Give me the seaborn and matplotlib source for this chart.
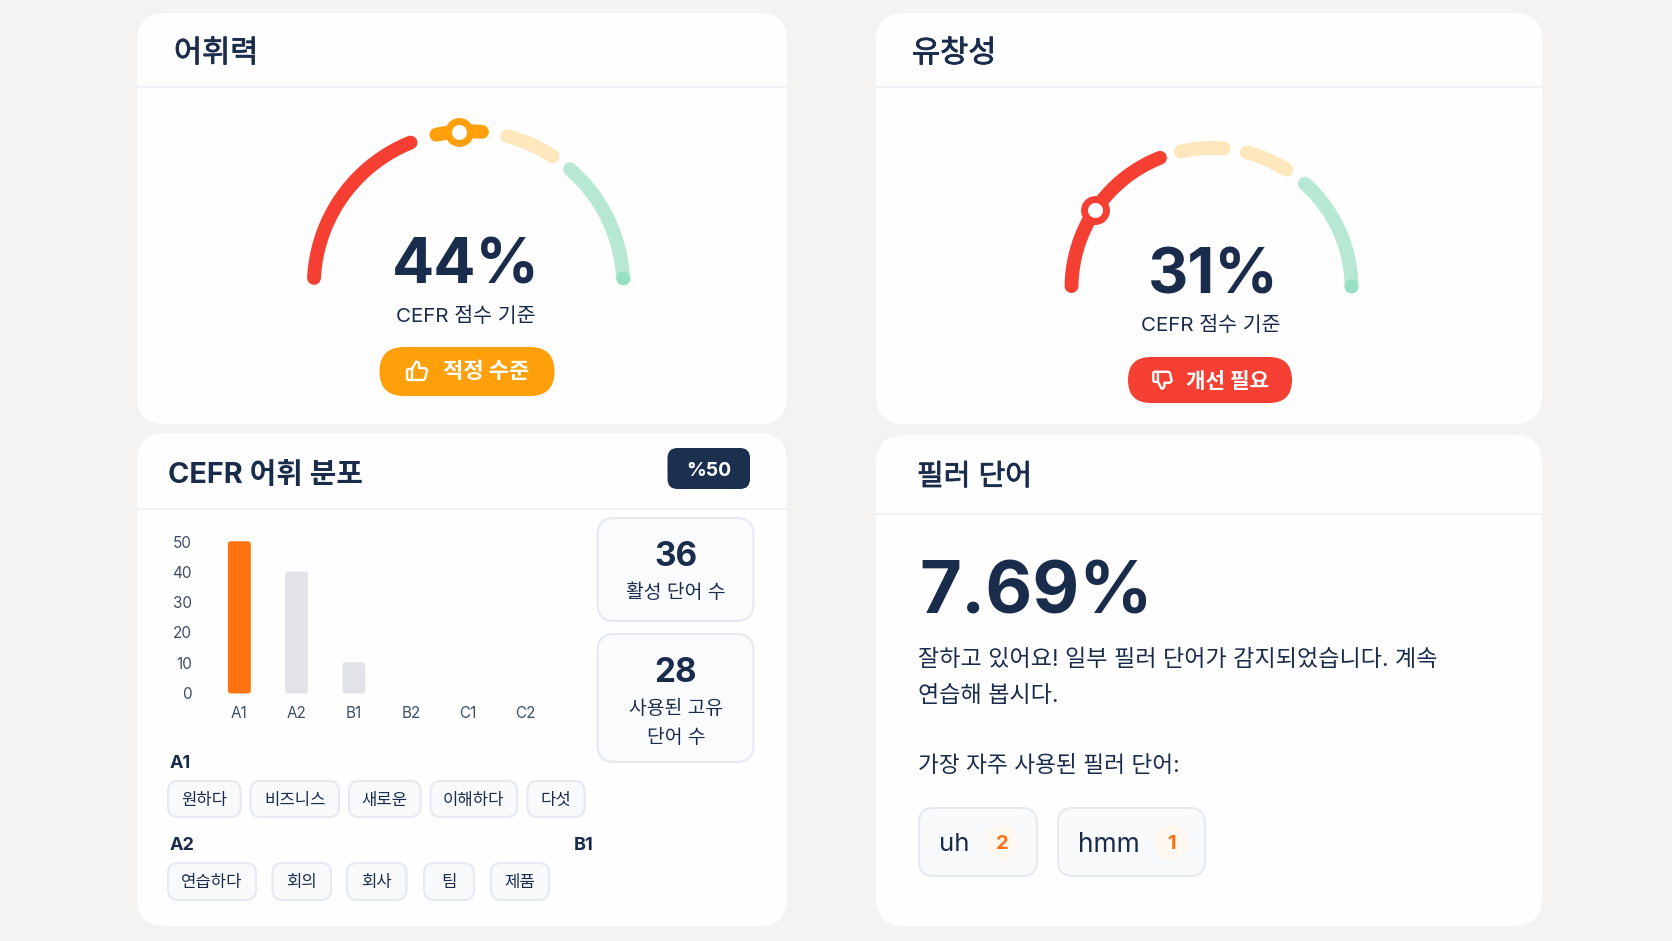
import matplotlib
matplotlib.use("Agg")
import matplotlib.patheffects as pe
import matplotlib.pyplot as plt
import numpy as np
import pandas as pd
import seaborn as sns
from matplotlib.patches import Circle, FancyBboxPatch, PathPatch
from matplotlib.path import Path

# bar chart data
levels = ["A1", "A2", "B1", "B2", "C1", "C2"]
level_counts = [50, 40, 10, 0, 0, 0]
bar_colors = ["#FF7410", "#E2E3E8", "#E2E3E8", "#E2E3E8", "#E2E3E8", "#E2E3E8"]
y_ticks = [0, 10, 20, 30, 40, 50]

# gauge data, angles in degrees
vocab_starts = [177, 102, 75.5, 49]
vocab_ends = [112, 85, 57, 3]
fluency_starts = [179.2, 102.7, 75.4, 48.2]
fluency_ends = [111.6, 85, 57.7, 0.8]
vocab_colors = ["#F53F33", "#FF9F0A", "#FEE7BD", "#B6E8D3"]
fluency_colors = ["#F53F33", "#FEE7BD", "#FEE7BD", "#B6E8D3"]
vocab_marker = 93.4
fluency_marker = 146
vocab_score = "44%"
fluency_score = "31%"

# text content
a1_words = ["원하다", "비즈니스", "새로운", "이해하다", "다섯"]
a2_words = ["연습하다", "회의", "회사", "팀", "제품"]
filler_words = ["uh", "hmm"]
filler_counts = [2, 1]
filler_sizes = [18.5, 19]

NAVY = "#1A2C4C"
BG = "#F5F3F1"
FAMILY = ["Inter", "Noto Sans CJK KR", "DejaVu Sans"]

sns.set_theme(style="white")
plt.rcParams["font.family"] = FAMILY
plt.rcParams["lines.solid_capstyle"] = "round"

W, H = 1672, 941
fig = plt.figure(figsize=(W / 100, H / 100), dpi=100, facecolor=BG)
base = fig.add_axes([0, 0, 1, 1])
base.set_xlim(0, W)
base.set_ylim(H, 0)
base.axis("off")


def box(x0, y0, x1, y1, r, face, edge="none", lw=0, z=1):
    base.add_patch(FancyBboxPatch((x0 + r, y0 + r), x1 - x0 - 2 * r, y1 - y0 - 2 * r,
                                  boxstyle=f"round,pad={r},rounding_size={r}",
                                  fc=face, ec=edge, lw=lw, zorder=z))


def label(x, y, s, size, weight="normal", color=NAVY, ha="center", stroke=0.0):
    t = base.text(x, y, s, fontsize=size, fontweight=weight, color=color, ha=ha, va="center_baseline", zorder=5)
    if stroke:
        # no medium weight for the Korean font, thicken the regular one
        t.set_path_effects([pe.withStroke(linewidth=stroke, foreground=color)])


def card(x0, y0, x1, y1, line_y):
    box(x0, y0, x1, y1, 28, "#FEFEFE")
    base.plot([x0, x1], [line_y, line_y], color="#EEF1F6", lw=1.5, zorder=2, solid_capstyle="butt")


def gauge(cx, cy, radius, starts, ends, colors, marker, marker_color):
    # polar axes centred on the arc, radius in pixels
    rmax = radius * 1.2
    ax = fig.add_axes([(cx - rmax) / W, 1 - (cy + rmax) / H, 2 * rmax / W, 2 * rmax / H],
                      projection="polar", zorder=3)
    ax.set_ylim(0, rmax)
    ax.patch.set_alpha(0)
    ax.axis("off")
    for start, end, color in zip(starts, ends, colors):
        theta = np.radians(np.linspace(start, end, 60))
        ax.plot(theta, np.full(60, radius), color=color, lw=10, clip_on=False)
    ax.plot(np.radians(ends[-1]), radius, "o", ms=10, color="#97E0C3", mew=0, clip_on=False)
    ax.plot(np.radians(marker), radius, "o", ms=15.8, mfc="white", mec=marker_color, mew=5, clip_on=False)


def thumb(cx, cy, size, down=False):
    pts = [(7, 10), (11, 2.5), (13, 3), (14, 5), (14, 9), (20, 9), (22, 11), (20, 20), (18, 21),
           (3, 21), (2, 20), (2, 11), (3, 10), (7, 10), (7, 21)]
    scale = size / 24
    verts = []
    for px, py in pts:
        py = 24 - py if down else py
        verts.append((cx + (px - 12) * scale, cy + (py - 12) * scale))
    base.add_patch(PathPatch(Path(verts), fc="none", ec="white", lw=1.7, joinstyle="round", zorder=6))


# cards
card(137, 13, 787, 424, 87)
card(876, 13, 1542, 424, 87)
card(137, 433, 787, 926, 509)
card(876, 435, 1542, 926, 514)

# vocabulary gauge card
label(174, 51, "어휘력", 22, ha="left", stroke=0.6)
gauge(468.5, 286, 154.7, vocab_starts, vocab_ends, vocab_colors, vocab_marker, "#FF9F0A")
label(465.5, 261, vocab_score, 45, "bold")
label(466, 314.5, "CEFR 점수 기준", 14.8)
box(379.5, 347, 554.5, 396, 24.5, "#FF9F0A")
thumb(417, 371, 24)
label(486, 370, "적정 수준", 15.9, "bold", "white")

# fluency gauge card
label(912, 51, "유창성", 22, ha="left", stroke=0.6)
gauge(1211.5, 288, 140, fluency_starts, fluency_ends, fluency_colors, fluency_marker, "#F53F33")
label(1213, 270, fluency_score, 45, "bold")
label(1211, 323.5, "CEFR 점수 기준", 14.8)
box(1128, 357, 1292, 403, 23, "#F53F33")
thumb(1162.5, 380, 22, down=True)
label(1228, 379.5, "개선 필요", 15.3, "bold", "white")

# CEFR card header
label(167.5, 472, "CEFR 어휘 분포", 20.8, "bold", ha="left")
box(667.5, 448, 750, 489, 10, "#1B2F4F")
label(708.5, 469, "%50", 14, "bold", "white")

# bar chart
bar_ax = fig.add_axes([210.8 / W, 1 - 693 / H, 343.2 / W, 151.3 / H], zorder=3)
bar_df = pd.DataFrame({"level": levels, "count": level_counts})
sns.barplot(data=bar_df, x="level", y="count", hue="level", palette=bar_colors, legend=False,
            width=0.4, ax=bar_ax)
for bar, color in zip(list(bar_ax.patches), bar_colors):
    if bar.get_height() > 0:
        bar_ax.add_patch(FancyBboxPatch((bar.get_x() + 0.05, 0.8), bar.get_width() - 0.1, bar.get_height() - 1.6,
                                        boxstyle="round,pad=0.05,rounding_size=0.05", mutation_aspect=18.9,
                                        fc=color, ec="none", clip_on=False))
    bar.set_visible(False)
bar_ax.set_xlim(-0.5, 5.5)
bar_ax.set_ylim(0, 50)
bar_ax.set_yticks(y_ticks)
bar_ax.set_xlabel("")
bar_ax.set_ylabel("")
bar_ax.patch.set_alpha(0)
sns.despine(ax=bar_ax, left=True, bottom=True)
bar_ax.tick_params(axis="both", length=0, labelsize=11, labelcolor="#3F4E67")
bar_ax.tick_params(axis="x", pad=9)
bar_ax.tick_params(axis="y", pad=13.7)

# stat boxes
for y0, y1 in [(518, 621), (634, 762)]:
    box(597.5, y0, 753.5, y1, 17, "#FAFBFC", "#E6E9EF", 1.5)
label(676, 553, "36", 24, "bold")
label(676, 591, "활성 단어 수", 13.9)
label(676, 669, "28", 24, "bold")
label(676, 707, "사용된 고유", 13.9)
label(676, 736, "단어 수", 13.9)

# word tags
label(170, 762, "A1", 13, "bold", ha="left")
label(170, 843, "A2", 13, "bold", ha="left")
label(573.5, 843, "B1", 13, "bold", ha="left")
a1_x = [(168, 240.5), (250.5, 339), (349, 420.5), (430.5, 517), (527.5, 584.5)]
a2_x = [(168, 256), (272.5, 331), (347, 406.5), (424, 474), (491, 549)]
for words, spans, y0, y1 in [(a1_words, a1_x, 781, 817), (a2_words, a2_x, 863, 900)]:
    for word, (x0, x1) in zip(words, spans):
        box(x0, y0, x1, y1, 10, "#F9FAFC", "#E6E9EF", 1.5)
        label((x0 + x1) / 2, (y0 + y1) / 2, word, 12)

# filler card
label(917, 474.5, "필러 단어", 20.9, ha="left", stroke=0.6)
label(919, 587.5, "7.69%", 52, "bold", ha="left")
label(918, 657, "잘하고 있어요! 일부 필러 단어가 감지되었습니다. 계속", 16.6, ha="left")
label(918, 693, "연습해 봅시다.", 16.6, ha="left")
label(918, 763.5, "가장 자주 사용된 필러 단어:", 16.3, ha="left")
chip_x = [(919, 1037), (1058, 1205)]
badge_x = [1002, 1171.5]
for word, count, size, (x0, x1), bx in zip(filler_words, filler_counts, filler_sizes, chip_x, badge_x):
    box(x0, 808, x1, 876, 15, "#F9FAFC", "#E6E9EF", 1.5)
    label(x0 + 20, 842, word, size, ha="left")
    base.add_patch(Circle((bx, 842), 17, fc="#FFF8F1", ec="none", zorder=4))
    label(bx, 842, str(count), 14.5, "bold", "#FF6F0F")

fig.savefig("out.png", dpi=100, facecolor=BG)
